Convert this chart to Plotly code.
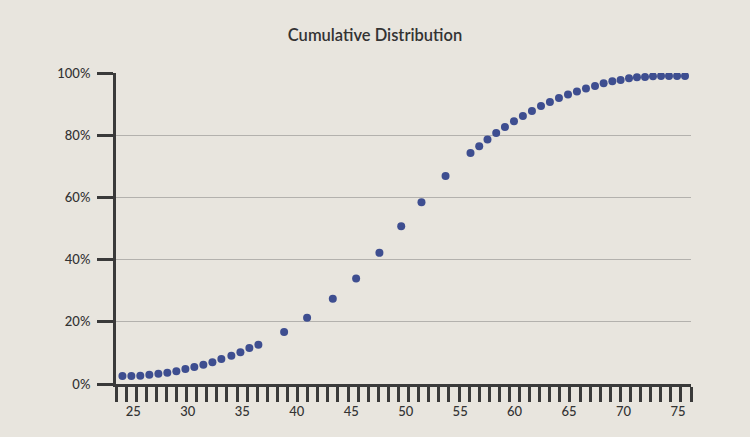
import plotly.graph_objects as go

# Data
x_values = [24.0, 24.82, 25.64, 26.47, 27.30, 28.12, 28.95, 29.78, 30.60, 31.43,
            32.26, 33.08, 34.0, 34.83, 35.65, 36.48,
            38.84, 40.95, 43.31, 45.45, 47.59, 49.59, 51.45, 53.66, 55.95,
            56.75, 57.51, 58.31, 59.11, 59.94, 60.76, 61.59, 62.42, 63.24, 64.07,
            64.90, 65.72, 66.55, 67.38, 68.17, 68.97, 69.73, 70.50, 71.23, 71.97,
            72.70, 73.44, 74.17, 74.91, 75.64]
cum_pct = [2.57, 2.57, 2.67, 2.99, 3.31, 3.63, 4.08, 4.82, 5.46, 6.20,
           6.97, 8.03, 9.09, 10.18, 11.56, 12.62,
           16.70, 21.30, 27.40, 33.95, 42.18, 50.75, 58.46, 66.91, 74.30,
           76.45, 78.61, 80.73, 82.65, 84.48, 86.19, 87.79, 89.40, 90.69, 91.97,
           93.06, 94.03, 94.99, 95.82, 96.69, 97.33, 97.75, 98.30, 98.62, 98.71,
           98.94, 99.04, 99.04, 99.04, 99.04]
y_ticks = [0, 20, 40, 60, 80, 100]
x_ticks = [25, 30, 35, 40, 45, 50, 55, 60, 65, 70, 75]

BG = "#e8e5de"
AX = "#3a3a3a"
TXT = "#333333"
FONT = "Lato"

fig = go.Figure()
fig.add_trace(go.Scatter(
    x=x_values, y=cum_pct, mode="markers",
    marker=dict(color="#3e4e90", size=8, line=dict(width=0)),
    showlegend=False, hoverinfo="skip",
))

fig.update_layout(
    width=750, height=437,
    margin=dict(l=116, r=59, t=73, b=53),
    paper_bgcolor=BG, plot_bgcolor=BG,
    font=dict(family=FONT, color=TXT, size=13),
    title=dict(text="Cumulative Distribution", x=0.5, xanchor="center",
               y=1 - 35 / 437, yanchor="middle", yref="container",
               font=dict(family=FONT, size=16.5, color=TXT, weight=600)),
)

fig.update_xaxes(
    range=[23.41, 76.19],
    tickmode="array", tickvals=x_ticks, ticktext=[str(v) for v in x_ticks],
    ticks="outside", ticklen=13, tickcolor="rgba(0,0,0,0)",
    showgrid=False, zeroline=False,
    showline=True, linewidth=3, linecolor=AX,
    tickfont=dict(family=FONT, size=13, color=TXT, weight=500),
    minor=dict(tickmode="linear", tick0=23.41, dtick=0.926, ticks="outside",
               ticklen=15, tickwidth=2.5, tickcolor=AX, showgrid=False),
)
fig.update_yaxes(
    range=[0, 100],
    tickmode="array", tickvals=y_ticks, ticktext=[f"{v}%" for v in y_ticks],
    ticks="outside", ticklen=16, tickwidth=2.5, tickcolor=AX,
    showgrid=True, gridcolor="#b3b1ad", gridwidth=1,
    zeroline=False,
    showline=True, linewidth=3, linecolor=AX,
    tickfont=dict(family=FONT, size=13, color=TXT, weight=500),
    ticklabelstandoff=4,
)

fig.write_html("out.html")
